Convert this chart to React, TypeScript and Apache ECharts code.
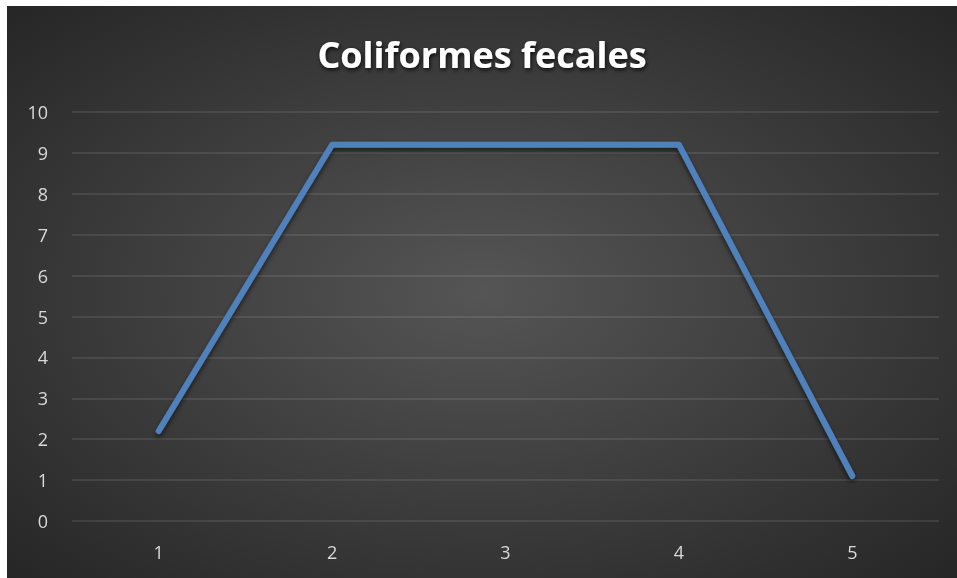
import React, { useEffect, useRef } from "react";
import * as echarts from "echarts";

const categories = ["1", "2", "3", "4", "5"];
const values = [2.2, 9.2, 9.2, 9.2, 1.1];
const titleText = "Coliformes fecales";

export default function App() {
  const ref = useRef<HTMLDivElement>(null);
  useEffect(() => {
    if (!ref.current) return;
    const chart = echarts.init(ref.current, undefined, { renderer: "svg" });
    chart.setOption({
      animation: false,
      backgroundColor: {
        type: "radial",
        x: 0.5,
        y: 0.5,
        r: 0.75,
        colorStops: [
          { offset: 0, color: "#555555" },
          { offset: 1, color: "#232323" },
        ],
      },
      title: {
        text: titleText,
        left: "center",
        top: 25,
        textStyle: {
          color: "#ffffff",
          fontFamily: "Open Sans",
          fontWeight: "bold",
          fontSize: 36,
          textShadowColor: "rgba(0,0,0,0.8)",
          textShadowBlur: 4,
          textShadowOffsetX: 1,
          textShadowOffsetY: 2,
        },
      },
      grid: { left: 65, right: 18, top: 106, bottom: 57 },
      xAxis: {
        type: "category",
        data: categories,
        boundaryGap: true,
        axisLine: { show: false },
        axisTick: { show: false },
        axisLabel: { color: "#d9d9d9", fontFamily: "Open Sans", fontSize: 18, margin: 22 },
      },
      yAxis: {
        type: "value",
        min: 0,
        max: 10,
        interval: 1,
        axisLine: { show: false },
        axisTick: { show: false },
        axisLabel: { color: "#d9d9d9", fontFamily: "Open Sans", fontSize: 18, margin: 24 },
        splitLine: { lineStyle: { color: "rgba(255,255,255,0.12)", width: 1.5 } },
      },
      series: [
        {
          type: "line",
          data: values,
          symbol: "none",
          lineStyle: {
            color: "#4f81bd",
            width: 6,
            cap: "round",
            join: "round",
            shadowColor: "rgba(0,0,0,0.6)",
            shadowBlur: 5,
            shadowOffsetY: 3,
          },
        },
      ],
    });
    return () => chart.dispose();
  }, []);
  return (
    <div
      ref={ref}
      style={{ position: "fixed", left: 7, top: 6, width: 950, height: 572 }}
    />
  );
}
